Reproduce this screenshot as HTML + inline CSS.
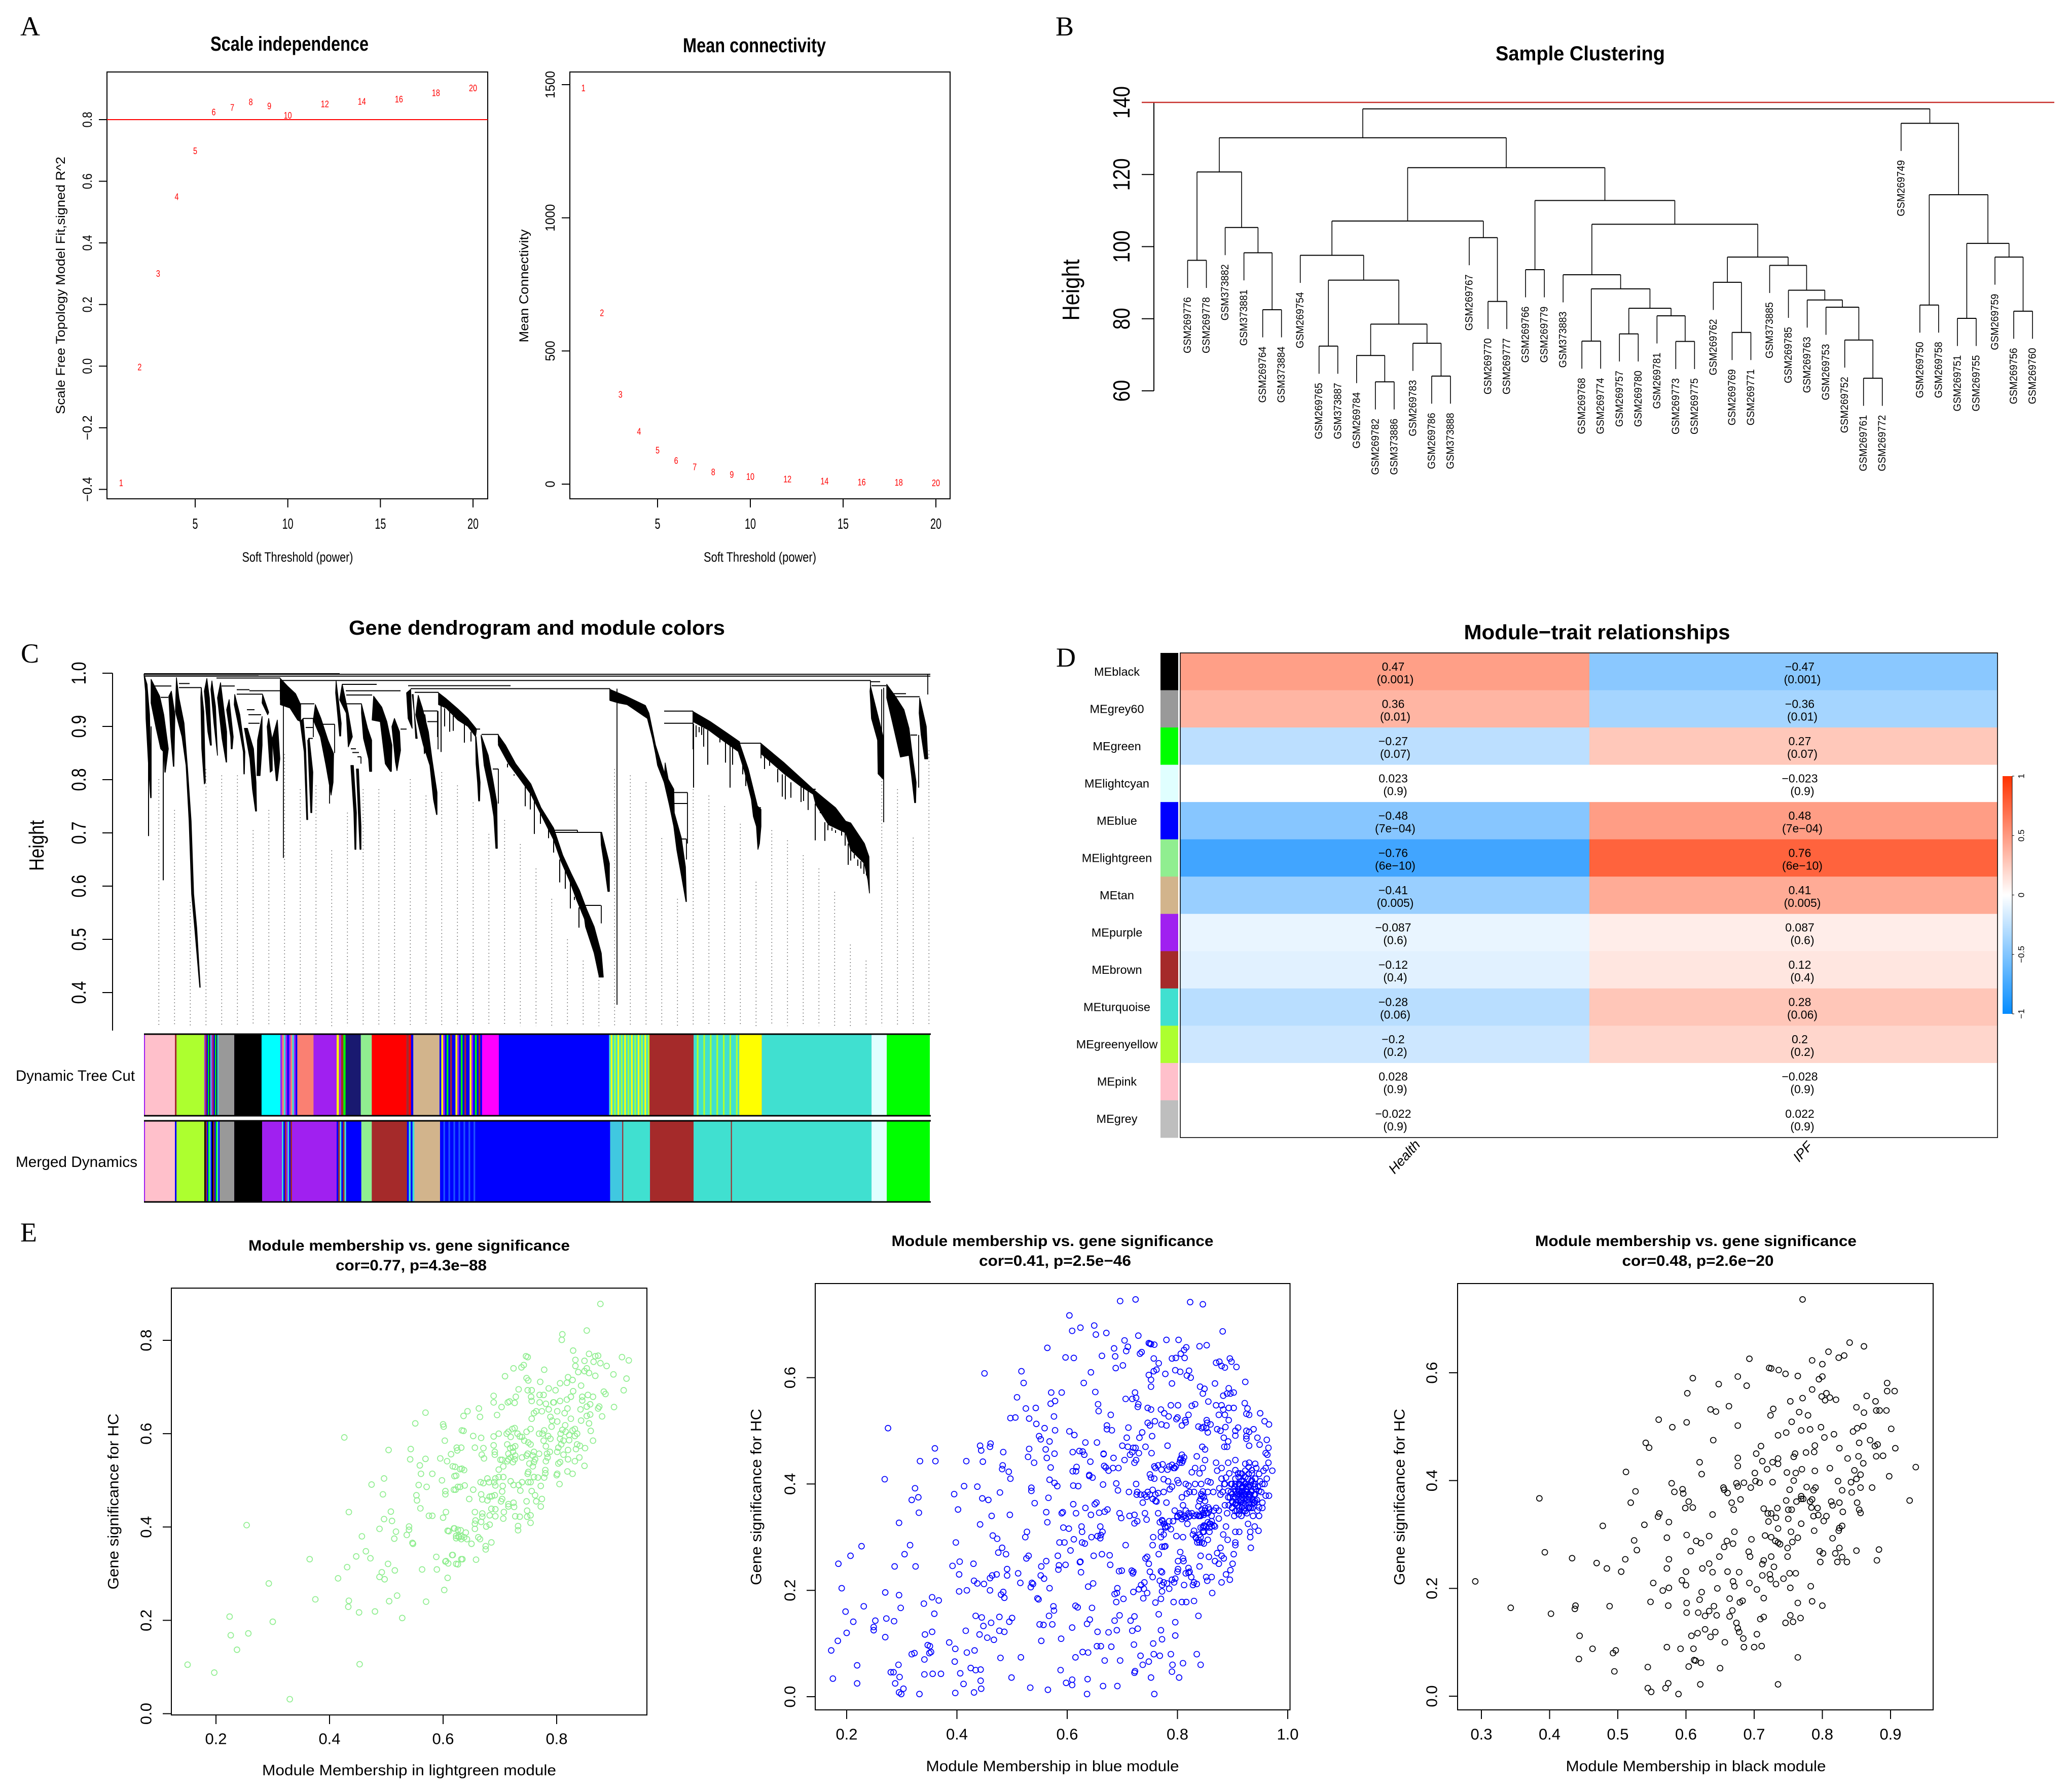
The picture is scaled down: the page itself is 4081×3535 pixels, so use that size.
<!DOCTYPE html>
<html lang="en">
<head>
<meta charset="utf-8">
<title>WGCNA figure panels A to E</title>
<style>
html,body{margin:0;padding:0;background:#fff}
svg{display:block;font-family:"Liberation Sans",sans-serif}
.t{font-family:"Liberation Serif",serif;font-size:54px}
.h{font-weight:bold;text-anchor:middle}
</style>
</head>
<body>
<svg id="figure" xmlns="http://www.w3.org/2000/svg" width="4081" height="3535" viewBox="0 0 4081 3535">
<defs>
<linearGradient id="corrGrad" x1="0" y1="0" x2="0" y2="1">
<stop offset="0" stop-color="#ff3200"/><stop offset=".5" stop-color="#ffffff"/><stop offset="1" stop-color="#058cff"/>
</linearGradient>
</defs>
<rect width="4081" height="3535" fill="#fff"/>

<text class="t" x="40" y="70">A</text>
<text class="t" x="2082" y="70">B</text>
<text class="t" x="41" y="1307">C</text>
<text class="t" x="2083" y="1315">D</text>
<text class="t" x="40" y="2449">E</text>

<g id="panelA1">
<text class="h" x="571" y="100" font-size="40" textLength="312" lengthAdjust="spacingAndGlyphs">Scale independence</text>
<text x="587" y="1108" font-size="27" text-anchor="middle" textLength="219" lengthAdjust="spacingAndGlyphs">Soft Threshold (power)</text>
<text x="120" y="563" font-size="25" text-anchor="middle" dominant-baseline="central" transform="rotate(-90 120 563)" textLength="508" lengthAdjust="spacingAndGlyphs">Scale Free Topology Model Fit,signed R^2</text>
</g>
<g id="panelA2">
<text class="h" x="1488" y="103" font-size="40" textLength="282" lengthAdjust="spacingAndGlyphs">Mean connectivity</text>
<text x="1499" y="1108" font-size="27" text-anchor="middle" textLength="222" lengthAdjust="spacingAndGlyphs">Soft Threshold (power)</text>
<text x="1034" y="564" font-size="25" text-anchor="middle" dominant-baseline="central" transform="rotate(-90 1034 564)" textLength="223" lengthAdjust="spacingAndGlyphs">Mean Connectivity</text>
</g>
<g id="panelB">
<text class="h" x="3117" y="119" font-size="40" textLength="334" lengthAdjust="spacingAndGlyphs">Sample Clustering</text>
<text x="2112" y="572" font-size="47" text-anchor="middle" dominant-baseline="central" transform="rotate(-90 2112 572)" textLength="121" lengthAdjust="spacingAndGlyphs">Height</text>
</g>
<g id="panelC">
<text class="h" x="1059" y="1252" font-size="40" textLength="742" lengthAdjust="spacingAndGlyphs">Gene dendrogram and module colors</text>
<text x="72" y="1668" font-size="41" text-anchor="middle" dominant-baseline="central" transform="rotate(-90 72 1668)" textLength="100" lengthAdjust="spacingAndGlyphs">Height</text>
<text x="31" y="2132" font-size="30" textLength="235" lengthAdjust="spacingAndGlyphs">Dynamic Tree Cut</text>
<text x="31" y="2302" font-size="30" textLength="240" lengthAdjust="spacingAndGlyphs">Merged Dynamics</text>
</g>
<g id="panelD">
<text class="h" x="3150" y="1261" font-size="41" textLength="525" lengthAdjust="spacingAndGlyphs">Module−trait relationships</text>
</g>
<g id="panelE1">
<text class="h" x="807" y="2467" font-size="30" textLength="634" lengthAdjust="spacingAndGlyphs">Module membership vs. gene significance</text>
<text class="h" x="811" y="2506" font-size="30" textLength="298" lengthAdjust="spacingAndGlyphs">cor=0.77, p=4.3e−88</text>
<text x="807" y="3502" font-size="30" text-anchor="middle" textLength="580" lengthAdjust="spacingAndGlyphs">Module Membership in lightgreen module</text>
<text x="224" y="2962" font-size="30" text-anchor="middle" dominant-baseline="central" transform="rotate(-90 224 2962)" textLength="347" lengthAdjust="spacingAndGlyphs">Gene significance for HC</text>
</g>
<g id="panelE2">
<text class="h" x="2076" y="2458" font-size="30" textLength="635" lengthAdjust="spacingAndGlyphs">Module membership vs. gene significance</text>
<text class="h" x="2081" y="2497" font-size="30" textLength="300" lengthAdjust="spacingAndGlyphs">cor=0.41, p=2.5e−46</text>
<text x="2076" y="3494" font-size="30" text-anchor="middle" textLength="499" lengthAdjust="spacingAndGlyphs">Module Membership in blue module</text>
<text x="1492" y="2953" font-size="30" text-anchor="middle" dominant-baseline="central" transform="rotate(-90 1492 2953)" textLength="348" lengthAdjust="spacingAndGlyphs">Gene significance for HC</text>
</g>
<g id="panelE3">
<text class="h" x="3345" y="2458" font-size="30" textLength="634" lengthAdjust="spacingAndGlyphs">Module membership vs. gene significance</text>
<text class="h" x="3349" y="2497" font-size="30" textLength="299" lengthAdjust="spacingAndGlyphs">cor=0.48, p=2.6e−20</text>
<text x="3345" y="3494" font-size="30" text-anchor="middle" textLength="513" lengthAdjust="spacingAndGlyphs">Module Membership in black module</text>
<text x="2761" y="2953" font-size="30" text-anchor="middle" dominant-baseline="central" transform="rotate(-90 2761 2953)" textLength="348" lengthAdjust="spacingAndGlyphs">Gene significance for HC</text>
</g>
</svg>

<script>
/* ---------- Panel A data ---------- */
const softPowers=[1,2,3,4,5,6,7,8,9,10,12,14,16,18,20];
const scaleFitValues=[-0.38,-0.004,0.30,0.549,0.698,0.824,0.839,0.857,0.844,0.813,0.85,0.858,0.866,0.886,0.902];
const meanConnectivityValues=[1487,642,336,197,127,88,64,45,35,28,18,10,7,6,4];
const powerTicks=[5,10,15,20];
const scaleFitTicks=[-0.4,-0.2,0,0.2,0.4,0.6,0.8];
const connectivityTicks=[0,500,1000,1500];

/* ---------- Panel B data: [mergeHeight,left,right], leaves are sample names ---------- */
const sampleTree=[138.2,
 [130.2,
  [120.7,[96.2,"GSM269776","GSM269778"],
   [105.3,"GSM373882",[98.3,"GSM373881",[82.5,"GSM269764","GSM373884"]]]],
  [121.9,
   [107.1,
    [97.6,"GSM269754",[90.7,[72.4,"GSM269765","GSM373887"],
      [78.5,[69.8,"GSM269784",[62.5,"GSM269782","GSM373886"]],
            [73.2,"GSM269783",[64.1,"GSM269786","GSM373888"]]]]],
    [102.5,"GSM269767",[84.8,"GSM269770","GSM269777"]]],
   [112.8,
    [93.6,"GSM269766","GSM269779"],
    [106.2,
     [92.2,"GSM373883",[88.3,[73.8,"GSM269768","GSM269774"],
       [82.9,[75.8,"GSM269757","GSM269780"],[80.8,"GSM269781",[73.7,"GSM269773","GSM269775"]]]]],
     [97.1,
      [90.1,"GSM269762",[76.2,"GSM269769","GSM269771"]],
      [94.8,"GSM373885",[87.9,"GSM269785",[85.2,"GSM269763",[83.2,"GSM269753",
        [74.1,"GSM269752",[63.5,"GSM269761","GSM269772"]]]]]]]]]]],
 [134.2,"GSM269749",
  [114.4,[83.8,"GSM269750","GSM269758"],
   [100.9,[80.1,"GSM269751","GSM269755"],
    [97.1,"GSM269759",[82.1,"GSM269756","GSM269760"]]]]]];
const sampleHeightTicks=[60,80,100,120,140];
const sampleCutHeight=140;
const sampleHang=7.66;

/* ---------- Panel C data: gene order position, tree height ---------- */
const geneBands=[
[[[0,.998],[6,.979],[11,.922],[13,.8267],[14,.766]],[[3,.9663],[4,.915],[9,.8267],[13,.766]]],
[[[14,.9885],[31,.9568],[39,.922],[48,.858],[42,.814]],[[14,.944],[24,.8965],[33,.858],[39,.852],[41,.814]]],
[[[54,.9663],[61,.922],[59,.825]],[[49,.9568],[53,.8806],[58,.825]]],
[[[64,.9917],[69,.9536],[79,.906],[86,.82],[93,.722],[98,.585],[104,.5219],[111,.41]],[[62,.928],[75,.8806],[83,.8267],[89,.722],[94,.585],[100,.5219],[110,.41]]],
[[[113,.9727],[118,.928],[121,.795]],[[112,.9536],[114,.858],[119,.792]]],
[[[124,.99],[129,.9536],[133,.8648]],[[119,.9663],[126,.89],[131,.8648]]],
[[[134,.9854],[141,.9377],[145,.8457]],[[132,.9695],[138,.906],[145,.8457]]],
[[[151,.9822],[163,.89],[163,.833]],[[145,.9536],[154,.8775],[162,.833]]],
[[[168,.9504],[176,.8806],[174,.858]],[[163,.9314],[171,.8806],[172,.858]]],
[[[179,.96],[189,.922],[199,.852],[198,.8108]],[[178,.941],[189,.89],[196,.852],[197,.8108]]],
[[[204,.8965],[216,.858],[221,.795],[222,.741]],[[198,.8965],[209,.839],[214,.782],[220,.741]]],
[[[233,.9187],[233,.8648],[229,.8076]],[[224,.874],[223,.8076]]],
[[[234,.96],[246,.9266]],[[233,.944],[244,.922]]],
[[[246,.915],[253,.874],[253,.8171]],[[243,.8996],[249,.814]]],
[[[263,.912],[268,.839],[263,.798]],[[253,.877],[261,.798]]],
[[[269,.99],[283,.9758],[299,.9615],[309,.941]],[[269,.941],[288,.9346],[303,.912],[309,.909]]],
[[[314,.915],[319,.858],[323,.725]],[[308,.909],[316,.852],[321,.725]]],
[[[326,.877],[333,.814],[331,.738]],[[323,.874],[329,.738]]],
[[[338,.941],[349,.915],[363,.874],[374,.8488],[373,.795],[369,.771]],[[334,.912],[348,.8806],[359,.8267],[366,.7885],[369,.771]]],
[[[379,.9854],[389,.906],[388,.882]],[[378,.9631],[386,.882]]],
[[[391,.979],[403,.925],[411,.8806]],[[386,.95],[399,.925],[403,.8616]]],
[[[413,.8267],[419,.7378],[418,.669]],[[408,.8267],[414,.7378],[416,.669]]],
[[[423,.82],[428,.7123],[428,.669]],[[419,.82],[426,.669]]],
[[[429,.9425],[441,.8965],[449,.8742],[449,.8155]],[[429,.925],[433,.8775],[443,.839],[445,.8155]]],
[[[453,.9568],[469,.9362],[479,.909],[489,.8648],[488,.8155]],[[450,.912],[466,.909],[476,.8298],[486,.8155]]],
[[[494,.915],[504,.89],[506,.855],[499,.817]],[[489,.8996],[496,.833]]],
[[[526,.9695],[529,.8965]],[[518,.9631],[521,.915]]],
[[[529,.96],[539,.8775]],[[531,.96],[536,.8775]]],
[[[541,.9584],[549,.9346],[561,.89],[568,.839],[578,.7758],[578,.7345]],[[536,.922],[551,.865],[564,.8267],[571,.763],[577,.7345]]],
[[[554,.922],[563,.8648]],[[549,.922],[553,.8488]]],
[[[581,.9631],[596,.952],[619,.933],[639,.915],[656,.895]],[[581,.941],[596,.9346],[619,.912],[639,.9],[654,.881]]],
[[[655,.8806],[660,.8266],[663,.795],[662,.76]],[[654,.8806],[655,.83],[658,.795],[660,.76]]],
[[[665,.8838],[679,.8457],[688,.801],[696,.7568],[697,.671]],[[665,.8806],[671,.8267],[683,.7727],[690,.731],[694,.671]]],
[[[699,.8838],[713,.865],[733,.83],[763,.792],[783,.7473],[808,.709],[826,.658],[843,.623],[859,.592],[873,.5568],[888,.5235],[902,.474],[906,.429]],[[699,.865],[719,.83],[739,.8044],[763,.7727],[773,.7536],[793,.7155],[808,.687],[823,.6457],[839,.611],[854,.5727],[869,.538],[871,.5235],[888,.474],[898,.429]]],
[[[903,.7],[918,.6425],[918,.59]],[[901,.7],[902,.677],[908,.639],[915,.59]]],
[[[919,.9695],[951,.9568],[989,.9393],[996,.925],[1009,.8648],[1026,.814]],[[919,.9488],[936,.944],[953,.941],[973,.928],[993,.915],[1003,.8775],[1009,.849],[1013,.827],[1026,.795]]],
[[[1028,.8314],[1034,.801],[1045,.782],[1046,.7378],[1060,.69],[1068,.636],[1070,.571]],[[1026,.795],[1036,.7536],[1045,.7123],[1051,.668],[1060,.62],[1069,.571]]],
[[[1083,.928],[1117,.909],[1151,.887],[1175,.871]],[[1083,.909],[1114,.893],[1141,.874],[1171,.8536]]],
[[[1175,.868],[1192,.82],[1210,.7505],[1217,.744],[1217,.7123],[1214,.68]],[[1172,.8536],[1185,.814],[1198,.763],[1202,.731],[1208,.7123],[1211,.669]]],
[[[1217,.868],[1263,.8314],[1320,.782],[1340,.766],[1364,.7473],[1384,.722],[1394,.7187],[1421,.68],[1430,.6552],[1431,.587]],[[1217,.849],[1263,.811],[1296,.787],[1320,.7727],[1325,.7536],[1350,.7155],[1384,.7],[1394,.668],[1421,.6425],[1428,.611],[1431,.587]]],
[[[1433,.9758],[1443,.9377],[1458,.8806],[1458,.801]],[[1432,.9663],[1435,.915],[1447,.874],[1448,.811]]],
[[[1465,.979],[1482,.9568],[1499,.9314],[1509,.8965],[1516,.8425],[1523,.795],[1522,.7568]],[[1465,.9536],[1476,.909],[1492,.8425],[1509,.8457],[1514,.8076],[1520,.7568]]],
[[[1530,.9536],[1543,.9],[1546,.839]],[[1529,.925],[1533,.8838],[1540,.839]]]
];
const geneSpikes=[[9,.92,.694],[14,.9,.766],[38,.858,.611],[586,.94,.852],[593,.934,.9],[603,.93,.89],[610,.92,.8917],[632,.905,.8695],[645,.89,.8717],[717,.83,.823],[730,.81,.8076],[752,.79,.75],[762,.775,.744],[770,.76,.698],[782,.74,.717],[798,.71,.69],[808,.69,.663],[820,.65,.607],[831,.63,.595],[841,.61,.558],[849,.58,.574],[858,.56,.522],
[1084,.905,.785],[1089,.902,.88],[1095,.899,.889],[1100,.9,.884],[1104,.897,.862],[1112,.893,.828],[1136,.88,.87],[1147,.872,.832],[1156,.87,.785],[1161,.86,.828],[1181,.84,.81],[1187,.83,.788],[1224,.845,.82],[1234,.84,.826],[1250,.82,.795],[1259,.81,.768],[1265,.808,.763],[1276,.795,.766],[1296,.787,.758],[1301,.785,.76],[1310,.78,.743],[1324,.755,.686],[1334,.74,.737],[1343,.72,.685],[1349,.716,.705],[1357,.71,.704],[1364,.705,.7],[1376,.703,.695],[1383,.7,.676],[1389,.68,.64],[1394,.668,.648],[1401,.66,.652],[1408,.65,.638],[1414,.647,.633],[1420,.643,.623],[1425,.64,.62]];
const geneMerges=[[0,1551,.998],[0,1551,.9945],[0,386,.999],[0,226,.995],[143,269,.991],[269,1433,.9863],[526,919,.971],[521,723,.9765],[534,581,.964],[208,269,.967],[183,234,.9606],[183,208,.969],[391,459,.979],[398,506,.967],[399,450,.959],[399,429,.9425],[69,113,.973],[69,90,.9806],[19,54,.976],[33,48,.9546],[153,179,.976],[306,336,.9425],[314,334,.915],[319,333,.898],[324,333,.8775],[353,376,.904],[206,228,.906],[206,231,.922],[203,218,.9314],[408,418,.858],[411,424,.851],[421,428,.843],[551,579,.929],[559,579,.909],[666,699,.885],[654,663,.895],[688,699,.82],[808,855,.705],[808,903,.701],[871,901,.5638],[506,518,.895],[1026,1083,.9288],[1026,1083,.906],[1175,1217,.8685],[1042,1072,.7758],[1043,1072,.7552],[1058,1070,.6885],[1208,1217,.7473],[1433,1452,.984],[1435,1464,.9765],[1477,1530,.9558],[1477,1503,.9615],[1512,1525,.8838],[1384,1394,.7187],[1320,1325,.782]];
const geneDrops=[[1083,.9288,.857],[903,.701,.69],[902,.5638,.53],[580,.929,.857],[275,.958,.653],[933,.971,.377],[1546,.998,.96],[1459,.9727,.72],[1455,.97,.85],[1528,.884,.785],[919,.971,.95],[269,.9863,.95],[1433,.9863,.96],[113,.973,.96],[366,.7885,.755],[1072,.7758,.68],[376,.904,.85],[579,.929,.88],[1070,.6885,.65],[1217,.8685,.84],[699,.885,.87],[699,.82,.755],[855,.705,.7],[428,.843,.83],[334,.915,.88]];
const geneGuideTops=[.801,.743,.57,.82,.808,.808,.705,.743,.848,.782,.789,.667,.738,.782,.782,.743,.801,.77,.814,.789,.757,.698,.724,.679,.633,.576,.5,.46,.43,.82,.808,.795,.69,.576,.782,.77,.75,.717,.608,.705,.686,.658,.633,.589,.49,.46,.83,.782,.691,.855];
const geneHeightTicks=[0.4,0.5,0.6,0.7,0.8,0.9,1.0];
const dynamicSegments=[
[0,1497,"#a020f0"],[2,59,"#ffc0cb"],[59,62,"#a52a2a"],[62,115,"#adff2f"],
[115,142,["#a020f0","#a52a2a","#0000ff","#00ff00","#191970","#40e0d0"]],[142,172,"#999999"],[172,224,"#000000"],[224,260,"#00ffff"],
[260,292,["#a020f0","#fa8072","#40e0d0","#a020f0","#0000ff"]],[292,323,"#fa8072"],[323,367,"#a020f0"],
[367,384,["#ffff00","#a020f0","#a52a2a","#00ff00"]],[384,413,"#191970"],[413,434,"#90ee90"],[434,500,"#ff0000"],
[500,513,["#a52a2a","#ff0000","#0000ff"]],[513,563,"#d2b48c"],
[563,644,["#0000ff","#ffff00","#a020f0","#0000ff","#00ff00","#0000ff","#a52a2a","#0000ff"]],[644,676,"#ff00ff"],[676,886,"#0000ff"],
[886,963,["#40e0d0","#ffff00","#40e0d0","#adff2f"]],[963,1047,"#a52a2a"],
[1047,1134,["#40e0d0","#40e0d0","#adff2f","#40e0d0"]],[1134,1177,"#ffff00"],[1177,1386,"#40e0d0"],[1386,1415,"#e0ffff"],[1415,1497,"#00ff00"]
];
const mergedSegments=[
[0,1497,"#a020f0"],[2,59,"#ffc0cb"],[59,62,"#0000ff"],[62,115,"#adff2f"],
[115,144,["#000000","#a52a2a","#0000ff","#00ff00","#40e0d0","#0000ff"]],[144,172,"#999999"],[172,225,"#000000"],[225,260,"#a020f0"],
[260,282,["#a020f0","#40e0d0","#0000ff","#a52a2a"]],[282,367,"#a020f0"],[367,385,["#0000ff","#a52a2a","#40e0d0"]],[385,414,"#0000ff"],
[414,434,"#90ee90"],[434,501,"#a52a2a"],[501,515,["#0000ff","#40e0d0"]],[515,564,"#d2b48c"],
[564,631,["#0000ff","#0000ff","#1e50ff"]],[631,888,"#0000ff"],[888,912,"#40c8e0"],[912,964,"#40e0d0"],[911,913,"#a52a2a"],
[964,1047,"#a52a2a"],[1047,1386,"#40e0d0"],[1118,1120,"#a52a2a"],[1386,1415,"#e0ffff"],[1415,1497,"#00ff00"]
];

/* ---------- Panel D data ---------- */
const moduleNames=["MEblack","MEgrey60","MEgreen","MElightcyan","MEblue","MElightgreen","MEtan","MEpurple","MEbrown","MEturquoise","MEgreenyellow","MEpink","MEgrey"];
const moduleColors=["#000000","#999999","#00ff00","#e0ffff","#0000ff","#90ee90","#d2b48c","#a020f0","#a52a2a","#40e0d0","#adff2f","#ffc0cb","#bebebe"];
const healthCor=[0.47,0.36,-0.27,0.023,-0.48,-0.76,-0.41,-0.087,-0.12,-0.28,-0.2,0.028,-0.022];
const ipfCor=[-0.47,-0.36,0.27,-0.023,0.48,0.76,0.41,0.087,0.12,0.28,0.2,-0.028,0.022];
const corPValues=["0.001","0.01","0.07","0.9","7e−04","6e−10","0.005","0.6","0.4","0.06","0.2","0.9","0.9"];
const traitNames=["Health","IPF"];
const colorbarTicks=[1,0.5,0,-0.5,-1];

/* ---------- Panel E data: flat x,y pairs in thousandths ---------- */
const lightgreenPairs=[150,105,197,88,224,208,226,168,237,137,254,404,257,172,293,279,300,197,330,31,365,331,375,245,415,290,426,592,431,314,434,242,433,229,434,432,447,337,452,217,453,106,457,380,464,348,472,333,474,491,480,219,488,396,488,293,492,303,494,470,496,504,496,417,497,288,503,321,504,565,505,241,508,433,510,413,514,375,515,307,517,390,519,253,528,205,536,383,540,401,540,394,542,545,543,567,546,366,547,364,551,622,553,468,554,457,557,490,559,532,560,440,561,514,563,309,569,546,569,645,570,240,571,486,575,424,581,424,581,514,588,336,589,309,595,547,598,500,600,420,600,620,601,615,602,265,603,585,604,477,604,470,604,326,605,432,607,541,608,291,609,322,610,391,614,556,617,340,620,397,621,529,622,480,623,510,624,570,625,564,626,320,627,380,628,378,630,486,631,393,632,570,633,525,634,331,636,606,637,378,
633,607,636,638,643,648,653,595,656,570,663,654,665,636,667,591,668,555,671,569,672,547,689,681,689,667,689,594,689,575,691,561,691,555,695,640,698,600,703,657,709,723,714,667,717,669,726,666,728,679,724,740,733,695,738,742,742,747,746,766,749,764,747,719,750,714,749,693,756,693,755,679,756,670,771,711,778,737,770,683,777,683,786,697,795,667,798,693,806,708,818,709,820,721,810,813,809,801,829,778,833,758,833,745,838,732,828,715,853,821,849,756,857,771,877,878,868,766,873,767,865,754,877,751,888,745,900,727,868,724,857,730,853,740,849,734,915,764,927,757,923,718,918,693,901,657,883,690,886,685,873,654,875,658,880,637,864,679,855,683,845,679,843,703,829,691,825,679,818,673,806,670,794,667,859,663,853,658,845,671,842,652,843,628,859,641,853,638,857,622,860,606,864,585,850,569,841,574,836,577,834,567,832,541,840,549,849,531,828,514,819,519,805,492,801,514,800,511,820,545,820,565,812,555,803,536,806,539,
698,523,701,544,704,544,706,530,713,541,715,545,719,549,723,539,726,545,727,553,715,557,718,569,723,570,727,573,723,561,713,577,712,600,715,604,722,610,726,612,719,593,731,600,735,594,739,593,743,585,747,604,750,581,754,577,754,610,756,632,760,644,764,648,774,648,770,667,781,664,786,652,789,636,792,628,791,615,801,626,801,648,819,654,814,644,815,618,825,632,810,608,816,604,822,597,828,607,832,610,836,600,832,595,807,600,806,589,808,577,803,570,801,561,812,585,822,586,775,600,769,600,778,607,785,595,789,589,777,585,781,573,788,561,783,557,784,549,781,541,769,557,760,561,758,553,749,557,739,549,747,553,762,545,760,539,758,530,752,536,780,522,780,515,778,506,767,506,760,507,750,518,749,514,750,496,754,496,739,496,719,498,733,490,724,490,
666,496,671,494,678,504,681,496,690,496,692,504,698,507,706,507,705,488,692,489,667,470,669,459,678,457,682,465,686,466,691,468,704,476,704,460,702,455,692,438,685,439,692,423,682,425,707,432,706,418,715,449,715,444,724,452,725,443,727,423,735,422,732,402,732,393,736,478,747,455,748,435,748,422,754,425,754,409,756,477,762,468,764,455,774,460,772,444,772,488,656,432,657,414,656,407,656,396,669,429,669,422,667,411,676,401,682,405,646,460,653,480,638,489,626,486,619,480,620,509,617,530,630,524,637,522,608,392,619,397,626,394,623,381,623,376,632,380,632,374,640,388,642,374,650,364,662,378,665,374,685,367,675,359,675,352,658,330,632,331,623,321,616,340,605,327];

const bluePairs=[172,87,175,34,184,105,185,250,191,204,198,160,200,120,207,265,212,141,219,59,219,25,227,283,231,170,249,125,249,131,252,143,269,409,270,196,270,112,272,147,275,505,280,46,285,46,286,142,287,245,288,25,294,60,295,191,295,327,295,8,296,37,299,5,298,167,303,15,305,268,315,285,318,370,318,80,323,82,324,392,325,245,330,375,331,346,332,5,333,443,340,175,341,42,341,70,342,117,347,97,351,95,350,82,355,187,355,122,353,84,356,43,359,156,360,467,361,443,367,181,371,43,386,102,392,246,395,381,396,66,397,90,397,7,398,290,402,352,404,230,404,198,405,254,406,44,412,24,413,396,416,124,417,443,418,83,418,200,425,54,430,250,431,218,431,8,432,87,434,50,434,152,437,213,437,395,441,117,442,324,443,51,443,30,442,472,444,15,444,463,445,149,446,373,447,442,448,133,449,212,450,608,
455,111,457,370,460,223,460,200,460,470,461,476,462,139,463,340,464,228,465,303,467,107,472,230,473,297,475,271,477,150,478,384,477,124,479,73,480,192,482,280,482,428,483,435,484,460,484,197,486,186,486,122,489,268,491,240,491,228,494,423,495,141,496,342,497,410,497,524,499,36,500,148,506,525,509,563,511,232,515,214,516,74,517,612,521,590,524,300,525,542,526,260,527,310,529,451,530,265,531,466,531,523,533,17,534,206,535,393,535,387,536,214,538,212,540,440,541,364,543,543,544,513,546,185,548,183,549,490,550,136,552,484,552,228,553,105,553,245,557,135,558,222,559,505,
561,465,562,255,562,347,563,449,564,328,565,13,566,374,567,152,568,408,568,480,568,204,570,431,570,551,571,572,573,136,575,170,576,162,576,527,577,402,577,457,578,501,578,556,582,396,583,265,584,239,585,247,586,290,588,50,589,109,590,345,590,572,592,347,593,318,595,290,597,248,598,26,603,316,604,499,606,275,609,130,609,22,609,32,610,424,610,460,611,397,611,362,612,637,612,296,613,492,615,171,615,74,616,345,616,424,617,432,619,168,620,396,622,462,623,253,624,254,625,234,626,320,627,310,627,290,628,84,628,461,630,590,631,455,632,288,633,478,633,355,636,137,636,5,637,33,638,83,638,207,640,417,640,415,641,145,642,442,643,610,643,342,644,300,645,167,646,412,647,213,648,265,649,698,650,362,651,573,653,365,654,478,655,302,656,550,657,537,658,346,660,320,660,298,661,304,661,95,663,268,664,310,
665,399,666,456,666,457,667,434,668,348,670,431,671,684,672,510,672,503,673,352,675,121,675,425,677,266,678,248,679,530,680,94,681,501,683,430,684,449,686,193,687,640,688,618,689,401,689,178,690,195,691,204,691,20,692,388,693,430,694,236,695,345,696,68,698,336,699,237,700,472,701,623,702,184,704,445,706,285,707,650,708,487,710,658,711,506,712,385,713,340,715,143,717,237,718,124,719,232,720,235,720,197,722,326,722,151,722,342,723,572,724,468,724,747,725,400,726,380,727,330,727,385,728,545,729,550,730,458,731,487,732,645,733,380,734,210,735,648,736,497,737,365,739,203,740,380,741,345,742,470,744,333,696,744,
746,515,748,605,750,510,752,596,752,583,753,458,754,490,755,285,756,100,756,300,757,612,758,433,758,410,759,518,760,430,762,615,765,435,768,218,768,77,770,125,771,512,772,210,773,437,773,330,775,409,776,282,778,320,780,510,782,472,780,671,785,203,790,47,792,330,794,215,796,222,798,302,800,235,801,240,803,36,802,671,808,375,810,338,811,255,815,232,816,178,818,325,820,233,825,225,828,210,830,180,832,430,835,80,838,152,840,340,842,60,845,470,846,318,848,320,850,465,853,661,855,385,840,659,823,742,846,738,882,687,816,657,729,679,704,670,604,717,624,694,609,688,652,681,564,656,597,638,663,641,685,655,750,664,758,662,
748,665,752,663,757,636,766,627,778,607,790,636,797,637,806,645,812,652,813,637,790,589,796,614,805,611,817,604,821,613,824,600,832,550,870,628,876,630,880,622,886,619,895,636,898,630,907,620,923,592,868,589,849,579,883,566,890,570,893,580,896,570,902,572,856,555,870,548,880,548,883,540,893,543,902,543,922,552,927,542,925,532,930,530,950,533,958,518,966,512,875,530,886,530,893,520,887,507,878,500,872,503,905,500,910,506,905,491,925,500,930,498,938,503,925,490,925,485,884,487,892,480,885,470,890,470,945,487,962,483,930,472,965,468,949,474,963,455,706,560,718,560,725,562,746,543,752,540,770,540,776,533,784,527,798,522,801,548,788,548,800,525,814,520,820,530,808,510,815,516,826,547,838,508,847,507,853,520,852,505,854,515,855,497,846,570,841,583,844,505,860,512,
750,418,752,412,755,389,760,380,762,367,765,383,771,427,775,385,780,365,783,405,786,390,790,395,793,430,797,433,800,407,802,402,805,445,808,440,812,450,815,400,817,382,820,397,822,385,826,422,830,385,832,400,835,452,840,420,843,400,846,430,850,445,855,405,860,403,865,385,870,440,872,425,876,392,880,410,885,400,888,412,892,440,894,420,897,385,900,365,902,390,903,340,905,445,905,410,907,380,909,360,910,390,911,375,912,350,913,400,914,420,915,370,916,340,917,385,918,395,919,365,920,405,921,380,922,355,923,425,924,375,925,395,926,345,927,385,928,410,929,365,930,440,931,375,932,398,933,355,934,385,935,420,936,370,937,340,938,400,939,380,940,365,941,410,942,390,943,430,944,370,945,350,946,395,948,340,950,405,952,385,954,355,956,425,958,400,960,378,962,410,965,440,966,378,972,425,960,458,947,312,940,320,932,310,932,300,928,325,905,310,905,290,
895,375,897,400,899,355,901,375,904,395,906,365,908,350,910,420,912,385,914,365,916,405,918,375,920,350,922,400,924,390,926,370,928,395,930,355,932,380,934,405,936,355,938,365,940,395,893,360,890,345,886,360,882,385,878,380,875,350,870,355,866,350,862,340,855,345,858,325,850,355,846,345,842,340,838,340,835,342,830,340,826,345,823,340,820,345,815,350,810,360,804,345,800,340,795,350,788,315,785,330,782,320,
775,305,770,300,772,282,766,268,778,283,745,263,750,235,755,225,770,236,772,234,775,215,781,213,790,220,801,255,805,272,810,260,812,210,820,242,822,235,830,215,835,212,840,245,842,265,844,290,848,288,852,225,854,218,857,263,862,225,863,195,868,255,872,270,875,250,880,215,878,280,880,265,884,260,888,230,895,220,896,238,900,250,902,268,905,285,912,310,933,280,891,295,888,320,883,305,875,335,868,320,862,320,858,310,855,295,848,310,842,318,840,290,833,300,828,305,810,300,
730,202,738,185,740,215,745,195,742,260,748,250,760,177,766,155,770,184,772,198,758,5,752,36,748,66,757,80,723,48,722,45,721,98,733,77,737,60,728,128,791,60,810,63,788,80,796,140,796,115,772,108,793,178,808,178,690,125,695,153,686,143,665,20,668,68,654,95,655,122,
880,430,886,400,892,387,892,375,899,400,899,381,899,368,899,356,905,426,905,400,905,387,905,375,905,362,905,349,911,413,911,400,911,387,911,381,911,375,911,368,911,356,911,343,917,419,917,407,917,394,917,387,917,375,917,368,917,356,923,438,923,413,923,400,923,387,923,381,923,368,923,362,923,349,929,432,929,419,929,394,929,381,929,375,929,356,935,426,935,407,935,387,935,362,941,438,941,400,941,381,941,368,948,419,948,387,948,356,954,400,954,365,960,430,
843,381,845,378,842,372,848,375,840,368,846,386,850,368,838,358,844,352,850,350,852,345,848,342,856,356,858,352,855,328,860,325,852,320,848,322,862,330,858,318,866,322,834,298,838,295,842,300,836,290,846,310,840,305,830,312,812,340,805,342,800,338,815,336,820,338,808,334,772,332,768,328,775,325,778,318,770,310,765,345,746,385,750,380,744,376,755,372,760,368,785,433,790,436,795,430,782,427,806,448,810,444,804,440,808,455,718,460,714,455,720,468,710,470,722,440,725,445];

const blackPairs=[291,213,343,164,385,367,393,267,402,153,433,256,437,162,438,168,444,112,443,69,463,88,469,247,478,316,484,237,488,167,493,80,497,85,495,46,505,231,511,254,512,416,519,359,524,289,526,380,528,271,539,318,541,470,546,461,544,15,544,54,549,8,548,175,552,210,559,333,561,339,560,513,566,196,570,15,572,91,572,294,572,237,574,24,574,168,575,201,575,323,575,254,579,395,580,499,583,379,589,4,592,88,594,215,595,384,596,376,599,349,600,206,601,155,601,173,600,231,601,299,601,508,602,562,604,361,604,55,607,269,608,112,610,350,610,590,611,88,612,67,614,66,615,288,617,117,618,155,620,434,620,179,621,22,622,284,622,62,623,193,623,412,624,237,628,149,628,124,634,297,634,246,634,158,636,532,636,110,639,337,640,475,639,230,641,167,644,528,643,119,645,150,646,200,648,579,649,259,650,52,655,387,656,383,656,277,657,100,661,231,660,288,661,377,663,538,664,181,664,148,667,359,668,159,669,213,669,283,671,204,670,346,671,305,674,136,674,395,676,593,676,502,676,442,676,427,676,389,676,126,678,119,678,230,679,174,680,365,683,177,684,107,685,91,685,396,689,576,692,268,693,626,693,210,694,259,695,387,696,291,701,414,700,91,702,399,703,450,704,198,704,115,708,396,709,143,710,464,711,93,712,436,712,245,712,224,714,182,714,147,714,348,714,252,716,298,719,421,720,339,721,324,722,609,725,608,725,339,723,226,724,217,724,521,725,259,725,295,727,397,727,434,728,533,729,240,731,288,732,331,732,208,735,484,735,441,735,431,735,22,734,349,735,311,735,285,736,605,738,282,743,218,746,598,746,136,747,489,747,363,748,415,749,259,749,275,750,346,750,329,752,383,752,228,753,201,753,547,753,150,755,346,755,509,757,138,756,286,754,305,758,444,758,400,760,450,761,414,761,228,762,361,764,294,764,72,764,594,764,173,766,527,768,145,769,493,769,371,769,366,769,320,771,553,770,421,771,736,772,366,776,452,779,521,777,388,782,361,783,204,782,495,784,350,785,176,785,569,785,623,785,365,787,382,788,453,788,307,787,334,789,465,789,418,790,387,793,349,794,336,795,588,796,269,797,249,798,499,800,616,799,556,800,593,801,265,800,168,802,325,803,480,804,549,806,562,806,334,809,639,811,423,811,554,813,361,815,354,815,293,817,486,819,265,820,550,822,249,823,399,824,628,825,460,825,359,824,307,825,312,825,275,829,258,829,382,829,316,830,342,832,632,836,249,837,441,840,656,842,397,843,378,845,491,847,419,850,403,850,536,850,270,851,497,851,359,854,346,854,470,853,445,856,340,856,411,856,387,860,501,861,649,861,526,860,432,865,557,870,475,873,387,877,464,878,547,879,530,879,445,880,252,881,467,883,272,884,530,889,446,894,530,895,581,895,566,898,408,901,496,906,566,907,460,928,363,937,425];
const membershipTicksA=[0.2,0.4,0.6,0.8];
const membershipTicksB=[0.2,0.4,0.6,0.8,1.0];
const membershipTicksC=[0.3,0.4,0.5,0.6,0.7,0.8,0.9];
const significanceTicksA=[0,0.2,0.4,0.6,0.8];
const significanceTicksB=[0,0.2,0.4,0.6];

/* ---------- drawing helpers ---------- */
const NS="http://www.w3.org/2000/svg";
function line(parent,name,x1,y1,x2,y2,color,width){
  const el=document.createElementNS(NS,"line");
  
  
  el.setAttribute("x1",x1);el.setAttribute("y1",y1);el.setAttribute("x2",x2);el.setAttribute("y2",y2);
  el.setAttribute("stroke",color||"#000");el.setAttribute("stroke-width",width||2);
  parent.appendChild(el);
  return el;
}
function rect(parent,name,x,y,w,h,fill){
  const el=document.createElementNS(NS,"rect");
  
  
  el.setAttribute("x",x);el.setAttribute("y",y);el.setAttribute("width",w);el.setAttribute("height",h);
  el.setAttribute("fill",fill);
  parent.appendChild(el);
  return el;
}
function label(parent,name,str,x,y,size,len,rot,color,anchor){
  const el=document.createElementNS(NS,"text");
  
  
  el.textContent=str;
  el.setAttribute("x",x);el.setAttribute("y",y);el.setAttribute("font-size",size);
  el.setAttribute("text-anchor",anchor||"middle");
  el.setAttribute("dominant-baseline","central");
  if(len){el.setAttribute("textLength",len);el.setAttribute("lengthAdjust","spacingAndGlyphs");}
  if(rot){el.setAttribute("transform","rotate("+rot+" "+x+" "+y+")");}
  if(color){el.setAttribute("fill",color);}
  parent.appendChild(el);
  return el;
}
function linear(d0,p0,d1,p1){return v=>p0+(v-d0)*(p1-p0)/(d1-d0);}
function frame(parent,name,x0,y0,x1,y1,width){
  const el=document.createElementNS(NS,"rect");
  
  
  el.setAttribute("x",x0);el.setAttribute("y",y0);el.setAttribute("width",x1-x0);el.setAttribute("height",y1-y0);
  el.setAttribute("fill","none");el.setAttribute("stroke","#000");el.setAttribute("stroke-width",width||2);
  parent.appendChild(el);
}
function fmtTick(v){
  const s=Math.abs(v)<1e-9?"0.0":v.toFixed(1);
  return s.replace("-","−");
}

/* ---------- Panel A ---------- */
function tickLength(s){
  if(s.length===1){return 13;}
  if(s.length===3){return s.indexOf(".")>=0?31:40;}
  return s.charAt(0)==="−"?49:54;
}
function softThresholdPlot(parentId,prefix,values,yTicks,fx0,fx1,sx,sy,yFmt,yLabelX){
  const g=document.getElementById(parentId);
  frame(g,prefix+"-plot-frame",fx0,142,fx1,984);
  powerTicks.forEach(p=>{
    line(g,prefix+"-x-tick",sx(p),984,sx(p),1001);
    label(g,prefix+"-x-tick-label",String(p),sx(p),1034,29,String(p).length*11);
  });
  yTicks.forEach(v=>{
    const s=yFmt(v);
    line(g,prefix+"-y-tick",fx0-16,sy(v),fx0,sy(v));
    label(g,prefix+"-y-tick-label",s,yLabelX,sy(v),26,tickLength(s),-90);
  });
  softPowers.forEach((p,i)=>{
    const s=String(p);
    label(g,prefix+"-power-point-"+p,s,sx(p),sy(values[i]),18,s.length*8,0,"#ff0000");
  });
}
const a1x=linear(5,385,20,933), a1y=linear(0.8,236,-0.4,965.4);
softThresholdPlot("panelA1","a1",scaleFitValues,scaleFitTicks,211,962,a1x,a1y,fmtTick,172);
line(document.getElementById("panelA1"),"r-squared-threshold-line",211,a1y(0.8),962,a1y(0.8),"#ff0000",2);
const a2x=linear(5,1297,20,1846), a2y=linear(0,955,1500,167);
softThresholdPlot("panelA2","a2",meanConnectivityValues,connectivityTicks,1124,1874,a2x,a2y,v=>v===0?"0":String(v),1085);

/* ---------- Panel B ---------- */
(function(){
  const g=document.getElementById("panelB");
  const sy=linear(140,202,60,771);
  const leafX=linear(0,2342.5,45,4009);
  let leafIndex=0;
  function draw(node,parentHeight){
    if(typeof node==="string"){
      const x=leafX(leafIndex++);
      const end=parentHeight-sampleHang;
      line(g,"sample-stem",x,sy(parentHeight),x,sy(end),"#000",1.6);
      label(g,"sample-label-"+node,node,x,sy(end)+18,21,111,-90,null,"end");
      return x;
    }
    const xl=draw(node[1],node[0]);
    const xr=draw(node[2],node[0]);
    const xm=(xl+xr)/2;
    line(g,"cluster-merge",xl,sy(node[0]),xr,sy(node[0]),"#000",2);
    if(parentHeight!==null){line(g,"cluster-branch",xm,sy(parentHeight),xm,sy(node[0]),"#000",1.6);}
    return xm;
  }
  draw(sampleTree,null);
  line(g,"sample-height-axis",2276,sy(140),2276,sy(60));
  sampleHeightTicks.forEach(v=>{
    line(g,"sample-height-tick",2252,sy(v),2276,sy(v));
    label(g,"sample-height-tick-label",String(v),2212,sy(v),46,v<100?43:64,-90);
  });
  line(g,"sample-cut-line",2252,sy(sampleCutHeight),4052,sy(sampleCutHeight),"#c8302c",2.4);
})();

/* ---------- Panel C ---------- */
(function(){
  const g=document.getElementById("panelC");
  const ox=linear(0,284,1551,1835), hy=linear(1,1328,0.4,1958);
  const floorHeight=0.337;
  geneGuideTops.forEach((top,i)=>{
    const x=ox(29.3+31*i);
    const el=line(g,"gene-guide-dots",x,hy(top),x,hy(floorHeight),"#555",1.6);
    el.setAttribute("stroke-dasharray","1.5 5.4");
  });
  geneBands.forEach(band=>{
    const pts=band[0].concat(band[1].slice().reverse()).map(p=>ox(p[0]).toFixed(1)+","+hy(p[1]).toFixed(1)).join(" ");
    const el=document.createElementNS(NS,"polygon");
    
    
    el.setAttribute("points",pts);
    el.setAttribute("fill","#000");
    el.setAttribute("stroke","#000");
    el.setAttribute("stroke-width",1.5);
    el.setAttribute("stroke-linejoin","round");
    g.appendChild(el);
  });
  geneSpikes.forEach(s=>{line(g,"gene-branch-spike",ox(s[0]),hy(s[1]),ox(s[0]),hy(s[2]),"#000",2);});
  geneMerges.forEach(m=>{line(g,"gene-merge-line",ox(m[0]),hy(m[2]),ox(m[1]),hy(m[2]),"#000",2);});
  geneDrops.forEach(d=>{line(g,"gene-drop-line",ox(d[0]),hy(d[1]),ox(d[0]),hy(d[2]),"#000",1.8);});
  line(g,"gene-height-axis",222,1328,222,2033);
  geneHeightTicks.forEach(v=>{
    line(g,"gene-height-tick",202,hy(v),222,hy(v));
    label(g,"gene-height-tick-label",v.toFixed(1),156,hy(v),40,45,-90);
  });
  const bx=linear(0,284,1497,1834);
  function bar(name,segments,top,bottom){
    segments.forEach(seg=>{
      if(Array.isArray(seg[2])){
        const w=(bx(seg[1])-bx(seg[0]))/(seg[2].length*Math.max(1,Math.round((seg[1]-seg[0])/(seg[2].length*3))));
        let i=0;
        for(let x=bx(seg[0]);x<bx(seg[1])-0.01;x+=w){
          rect(g,name+"-stripe",x,top,w+0.3,bottom-top,seg[2][i%seg[2].length]);
          i++;
        }
      }else{
        rect(g,name+"-segment",bx(seg[0]),top,bx(seg[1])-bx(seg[0]),bottom-top,seg[2]);
      }
    });
    line(g,name+"-top-border",284,top,1836,top,"#000",3);
    line(g,name+"-bottom-border",284,bottom,1836,bottom,"#000",3);
  }
  bar("dynamic-tree-cut-bar",dynamicSegments,2040,2201);
  bar("merged-dynamics-bar",mergedSegments,2211,2371);
})();

/* ---------- Panel D ---------- */
(function(){
  const g=document.getElementById("panelD");
  const top=1288,rowH=(2244-1288)/moduleNames.length;
  function corColor(v){
    const a=Math.abs(v);
    if(a<0.05){return "#ffffff";}
    if(v>=0){return "rgb(255,"+Math.round(255-205*a)+","+Math.round(255-255*a)+")";}
    return "rgb("+Math.round(255-250*a)+","+Math.round(255-118*a)+",255)";
  }
  const corText=v=>String(v).replace("-","−");
  moduleNames.forEach((n,i)=>{
    const y=top+i*rowH, cy=y+rowH/2;
    rect(g,"module-swatch-"+n,2289,y,35,rowH+0.5,moduleColors[i]);
    label(g,"module-label-"+n,n,2203,cy,23.5);
    rect(g,"cell-health-"+n,2328,y,3135-2328,rowH+0.5,corColor(healthCor[i]));
    rect(g,"cell-ipf-"+n,3135,y,3940-3135,rowH+0.5,corColor(ipfCor[i]));
    label(g,"cell-health-value-"+n,corText(healthCor[i]),2748,cy-10,23);
    label(g,"cell-health-pvalue-"+n,"("+corPValues[i]+")",2752,cy+15,23);
    label(g,"cell-ipf-value-"+n,corText(ipfCor[i]),3550,cy-10,23);
    label(g,"cell-ipf-pvalue-"+n,"("+corPValues[i]+")",3555,cy+15,23);
  });
  frame(g,"heatmap-frame",2328,1288,3940,2244,1.6);
  label(g,"trait-label-health",traitNames[0],2770,2282,27,null,-48).setAttribute("font-style","italic");
  label(g,"trait-label-ipf",traitNames[1],3556,2272,27,null,-48).setAttribute("font-style","italic");
  rect(g,"colorbar",3950,1531,19,469,"url(#corrGrad)");
  const cy=linear(1,1531,-1,2000);
  line(g,"colorbar-axis",3969,1531,3969,2000,"#000",1);
  colorbarTicks.forEach(v=>{
    line(g,"colorbar-tick",3969,cy(v),3973,cy(v),"#000",1);
    label(g,"colorbar-tick-label",String(v).replace("-","−"),3987,cy(v),17,null,-90);
  });
})();

/* ---------- Panel E ---------- */
function scatter(parentId,prefix,flatPairs,color,box,xs,ys,xTicks,yTicks,xLabelY,yLabelX){
  const g=document.getElementById(parentId);
  for(let i=0;i+1<flatPairs.length;i+=2){
    const c=document.createElementNS(NS,"circle");
    
    
    c.setAttribute("cx",xs(flatPairs[i]/1000));
    c.setAttribute("cy",ys(flatPairs[i+1]/1000));
    c.setAttribute("r",5.5);
    c.setAttribute("fill","none");
    c.setAttribute("stroke",color);
    c.setAttribute("stroke-width",1.7);
    g.appendChild(c);
  }
  frame(g,prefix+"-plot-frame",box[0],box[1],box[2],box[3]);
  xTicks.forEach(v=>{
    line(g,prefix+"-x-tick",xs(v),box[3],xs(v),box[3]+18);
    label(g,prefix+"-x-tick-label",v.toFixed(1),xs(v),xLabelY,31);
  });
  yTicks.forEach(v=>{
    line(g,prefix+"-y-tick",box[0]-17,ys(v),box[0],ys(v));
    label(g,prefix+"-y-tick-label",v.toFixed(1),yLabelX,ys(v),31,null,-90);
  });
}
scatter("panelE1","e1",lightgreenPairs,"#90ee90",[338,2541,1276,3383],linear(.2,426,.8,1098),linear(0,3380.5,.8,2644),membershipTicksA,significanceTicksA,3430,288);
scatter("panelE2","e2",bluePairs,"#0000ff",[1608,2532,2544.5,3373],linear(.2,1670,1,2540),linear(0,3347,.6,2717.6),membershipTicksB,significanceTicksB,3421,1558);
scatter("panelE3","e3",blackPairs,"#000000",[2875,2532,3813,3373],linear(.3,2922,.9,3729),linear(0,3346,.6,2708),membershipTicksC,significanceTicksB,3421,2824);
</script>
</body>
</html>
